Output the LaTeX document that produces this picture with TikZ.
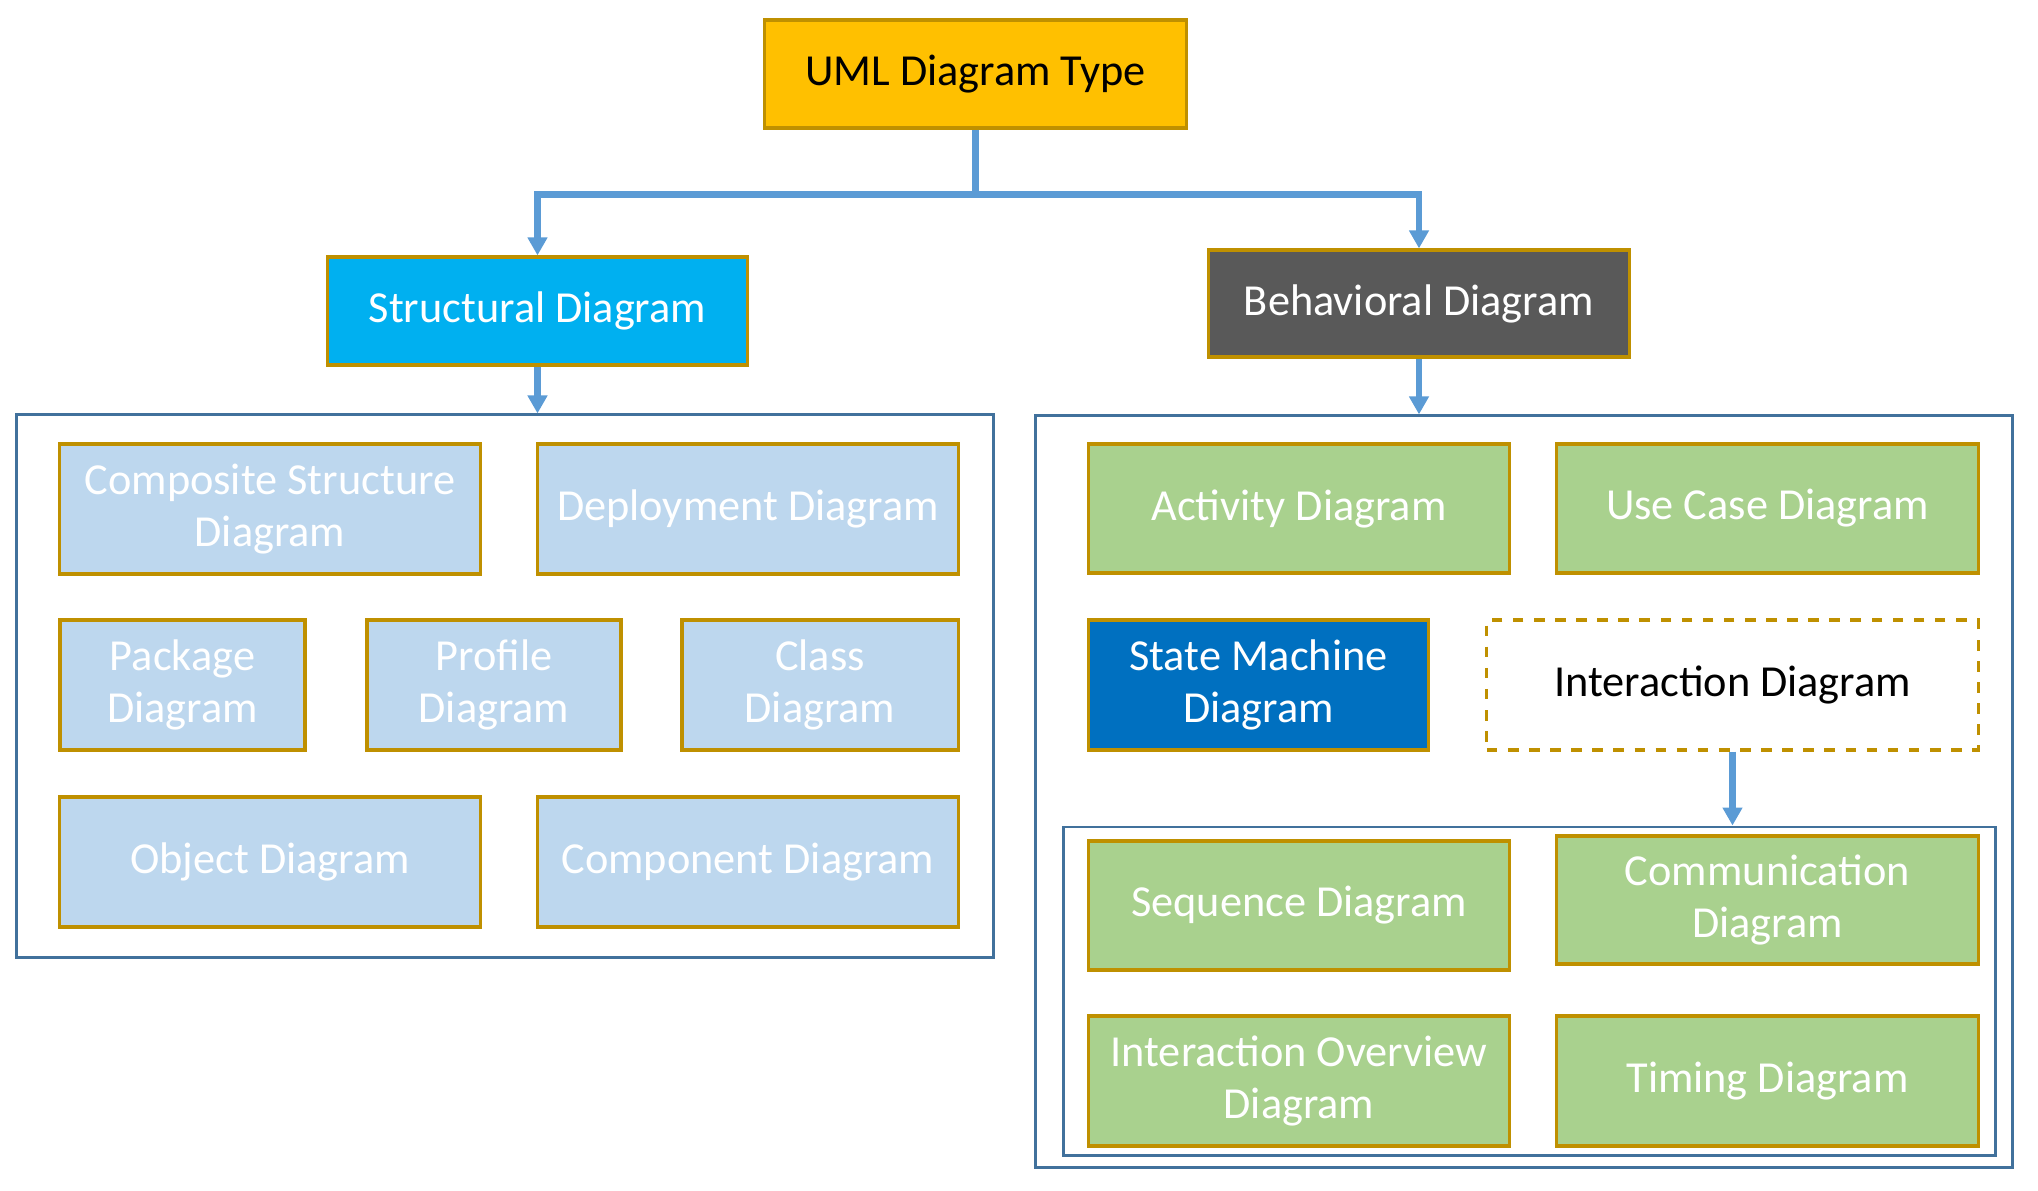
\documentclass[tikz,border=0pt]{standalone}
\usepackage{fontspec}
\setmainfont{Carlito}
\usetikzlibrary{positioning,arrows.meta,calc}

\definecolor{umlgold}{HTML}{FFC000}
\definecolor{rimgold}{HTML}{BF9000}
\definecolor{structcyan}{HTML}{00B0F0}
\definecolor{behavgray}{HTML}{595959}
\definecolor{paleblue}{HTML}{BDD7EE}
\definecolor{palegreen}{HTML}{A9D18E}
\definecolor{statenavy}{HTML}{0070C0}
\definecolor{linkblue}{HTML}{5B9BD5}
\definecolor{grpblue}{HTML}{41719C}

\begin{document}
\begin{tikzpicture}[
  x=0.01cm, y=-0.01cm,
  font=\fontsize{12.6}{15}\selectfont,
  box/.style={rectangle,draw=rimgold,line width=0.9pt,align=center,inner sep=2pt,
              minimum height=1.3cm,text=white},
  sbox/.style={box,fill=paleblue},
  bbox/.style={box,fill=palegreen},
  group/.style={rectangle,draw=grpblue,line width=0.8pt,inner sep=0pt},
  arr/.style={-{Triangle[length=1.8mm,width=1.9mm]},linkblue,line width=1.8pt},
]
\useasboundingbox (0,0) rectangle (2038,1190);

\node[box,fill=umlgold,text=black,minimum width=4.21cm,minimum height=1.08cm] (uml) at (975.5,74) {UML Diagram Type};
\node[box,fill=structcyan,minimum width=4.19cm,minimum height=1.08cm] (struct) at (537.5,311) {Structural Diagram};
\node[box,fill=behavgray,minimum width=4.2cm,minimum height=1.07cm] (behav) at (1419,303.5) {Behavioral Diagram};

% group frames
\node[group,minimum width=9.76cm,minimum height=5.42cm] (sgroup) at (505,686) {};
\node[group,minimum width=9.76cm,minimum height=7.51cm] (bgroup) at (1524,791.5) {};
\node[group,minimum width=9.31cm,minimum height=3.28cm] (igroup) at (1529.5,991) {};

% structural kinds
\node[sbox,minimum width=4.2cm] (comp) at (270,509) {Composite Structure\\Diagram};
\node[sbox,minimum width=4.2cm] (deploy) at (748,509) {Deployment Diagram};
\node[sbox,minimum width=2.45cm] (pkg) at (182.5,685) {Package\\Diagram};
\node[sbox,minimum width=2.54cm] (profile) at (494,685) {Profile\\Diagram};
\node[sbox,minimum width=2.76cm] (class) at (820,685) {Class\\Diagram};
\node[sbox,minimum width=4.2cm] (object) at (270,862) {Object Diagram};
\node[sbox,minimum width=4.2cm] (component) at (748,862) {Component Diagram};

% behavioral kinds
\node[bbox,minimum width=4.2cm,minimum height=1.29cm] (activity) at (1299,508.5) {Activity Diagram};
\node[bbox,minimum width=4.21cm,minimum height=1.29cm] (usecase) at (1767.5,508.5) {Use Case Diagram};
\node[box,fill=statenavy,minimum width=3.39cm] (state) at (1258.5,685) {State Machine\\Diagram};
\node[box,dashed,fill=white,text=black,minimum width=4.91cm] (inter) at (1732.5,685) {Interaction Diagram};

% interaction kinds
\node[bbox,minimum width=4.2cm,minimum height=1.29cm] (sequence) at (1299,905.5) {Sequence Diagram};
\node[bbox,minimum width=4.21cm,minimum height=1.28cm] (commu) at (1767.5,900) {Communication\\Diagram};
\node[bbox,minimum width=4.2cm] (overview) at (1299,1081) {Interaction Overview\\Diagram};
\node[bbox,minimum width=4.21cm] (timing) at (1767.5,1081) {Timing Diagram};

\draw[arr] (uml.south) -- ($(uml.south)+(0,65)$) -| (struct.north);
\draw[arr] (uml.south) -- ($(uml.south)+(0,65)$) -| (behav.north);
\draw[arr] (struct.south) -- (struct.south |- sgroup.north);
\draw[arr] (behav.south) -- (behav.south |- bgroup.north);
\draw[arr] (inter.south) -- (inter.south |- igroup.north);
\end{tikzpicture}
\end{document}
